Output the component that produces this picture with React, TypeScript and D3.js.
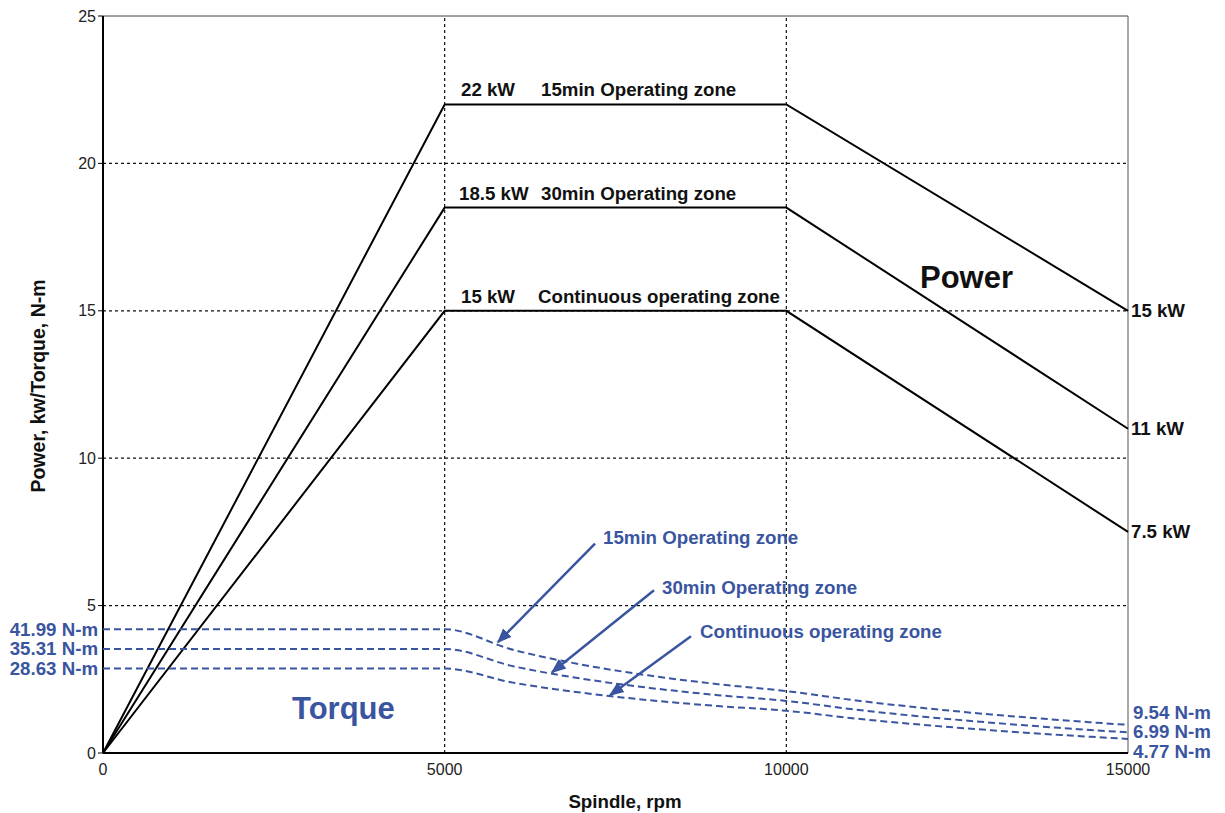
import React from "react";
import * as d3 from "d3";

const W = 1225;
const H = 813;

const xTicks = [0, 5000, 10000, 15000];
const yTicks = [0, 5, 10, 15, 20, 25];

// Power curves (kW) at rpm breakpoints
const powerRpm = [0, 5000, 10000, 15000];
const power15min = [0, 22, 22, 15];
const power30min = [0, 18.5, 18.5, 11];
const powerCont = [0, 15, 15, 7.5];

// Torque curves (N-m), plotted at 1/10 scale
const torqueRpm = [0, 5000, 6000, 7000, 8000, 9000, 10000, 11000, 12000, 13000, 14000, 15000];
const torque15min = [41.99, 41.99, 35.01, 30.01, 26.26, 23.34, 21.01, 17.88, 15.28, 13.07, 11.19, 9.54];
const torque30min = [35.31, 35.31, 29.44, 25.24, 22.08, 19.63, 17.67, 14.76, 12.33, 10.28, 8.53, 6.99];
const torqueCont = [28.63, 28.63, 23.87, 20.46, 17.9, 15.92, 14.32, 11.72, 9.55, 7.71, 6.14, 4.77];

const powerTopLabels = ["22 kW", "18.5 kW", "15 kW"];
const powerZoneLabels = ["15min Operating zone", "30min Operating zone", "Continuous operating zone"];
const powerEndLabels = ["15 kW", "11 kW", "7.5 kW"];
const torqueStartLabels = ["41.99 N-m", "35.31 N-m", "28.63 N-m"];
const torqueEndLabels = ["9.54 N-m", "6.99 N-m", "4.77 N-m"];

// Arrow annotations in data coordinates [rpm, value]
const arrowTails = [[7200, 7.1], [8064, 5.52], [8605, 3.96]];
const arrowTips = [[5780, 3.76], [6571, 2.74], [7420, 1.96]];

const BLUE = "#3a55a0";

export default function App() {
  const x = d3.scaleLinear().domain([0, 15000]).range([103, 1128]);
  const y = d3.scaleLinear().domain([0, 25]).range([753, 16]);

  const pLine = d3
    .line<number>()
    .x((_, i) => x(powerRpm[i]))
    .y((d) => y(d));
  const tLine = d3
    .line<number>()
    .x((_, i) => x(torqueRpm[i]))
    .y((d) => y(d / 10))
    .curve(d3.curveMonotoneX);

  const powers = [power15min, power30min, powerCont];
  const torques = [torque15min, torque30min, torqueCont];
  const boldFont = "'Liberation Sans', Arial, sans-serif";
  const tickFont = "'Liberation Sans', Arial, sans-serif";
  const FS = 18.7;

  return (
    <svg width={W} height={H} style={{ position: "absolute", left: 0, top: 0, background: "#fff" }}>
      <defs>
        <marker id="ah" viewBox="0 0 10 10" refX="9" refY="5" markerWidth="6" markerHeight="6" orient="auto">
          <path d="M0,1 L10,5 L0,9 Z" fill={BLUE} />
        </marker>
      </defs>
      {/* grid */}
      {yTicks.filter((t) => t > 0 && t < 25).map((t) => (
        <line key={"gy" + t} x1={x(0)} x2={x(15000)} y1={y(t)} y2={y(t)} stroke="#111" strokeWidth={1.2} strokeDasharray="3,3" />
      ))}
      {xTicks.filter((t) => t > 0 && t < 15000).map((t) => (
        <line key={"gx" + t} x1={x(t)} x2={x(t)} y1={y(0)} y2={y(25)} stroke="#111" strokeWidth={1.2} strokeDasharray="3,3" />
      ))}
      {/* frame */}
      <line x1={x(0)} x2={x(15000)} y1={y(25)} y2={y(25)} stroke="#444" strokeWidth={1} />
      <line x1={x(15000)} x2={x(15000)} y1={y(25)} y2={y(0)} stroke="#555" strokeWidth={1} />
      <line x1={x(0)} x2={x(0)} y1={y(25)} y2={y(0)} stroke="#000" strokeWidth={2} />
      <line x1={x(0)} x2={x(15000)} y1={y(0)} y2={y(0)} stroke="#000" strokeWidth={2} />
      {/* ticks */}
      {yTicks.map((t) => (
        <g key={"yt" + t}>
          <line x1={x(0) - 5} x2={x(0)} y1={y(t)} y2={y(t)} stroke="#000" strokeWidth={1} />
          <text x={x(0) - 7} y={y(t)} dy="0.35em" textAnchor="end" fontFamily={tickFont} fontSize={16} fill="#222">{t}</text>
        </g>
      ))}
      {xTicks.map((t) => (
        <text key={"xt" + t} x={x(t)} y={y(0) + 22} textAnchor="middle" fontFamily={tickFont} fontSize={16} fill="#222">{t}</text>
      ))}
      {/* axis titles */}
      <text x={625} y={808} textAnchor="middle" fontFamily={boldFont} fontWeight="bold" fontSize={FS} fill="#111">Spindle, rpm</text>
      <text transform={`translate(45,386) rotate(-90)`} textAnchor="middle" fontFamily={boldFont} fontWeight="bold" fontSize={19.5} fill="#111">Power, kw/Torque, N-m</text>
      {/* power curves */}
      {powers.map((p, i) => (
        <path key={"p" + i} d={pLine(p) || ""} fill="none" stroke="#000" strokeWidth={2} />
      ))}
      {/* torque curves */}
      {torques.map((t, i) => (
        <path key={"t" + i} d={tLine(t) || ""} fill="none" stroke={BLUE} strokeWidth={2} strokeDasharray="7,4" />
      ))}
      {/* power labels */}
      {powers.map((p, i) => (
        <g key={"pl" + i} fontFamily={boldFont} fontWeight="bold" fontSize={FS} fill="#111">
          <text x={i === 1 ? 459 : 461} y={y(p[1]) - 8}>{powerTopLabels[i]}</text>
          <text x={i === 2 ? 538 : 541} y={y(p[1]) - 8}>{powerZoneLabels[i]}</text>
          <text x={x(15000) + 3} y={y(p[3])} dy="0.35em">{powerEndLabels[i]}</text>
        </g>
      ))}
      <text x={920} y={288} fontFamily={boldFont} fontWeight="bold" fontSize={31} fill="#111">Power</text>
      <text x={292} y={719} fontFamily={boldFont} fontWeight="bold" fontSize={31} fill={BLUE}>Torque</text>
      {/* torque labels */}
      {torques.map((t, i) => (
        <text key={"tl" + i} x={98} y={y(t[0] / 10)} dy="0.35em" textAnchor="end" fontFamily={boldFont} fontWeight="bold" fontSize={FS} fill={BLUE}>{torqueStartLabels[i]}</text>
      ))}
      {torqueEndLabels.map((s, i) => (
        <text key={"te" + i} x={1133} y={712 + i * 19.5} dy="0.35em" fontFamily={boldFont} fontWeight="bold" fontSize={FS} fill={BLUE}>{s}</text>
      ))}
      {/* arrows */}
      {arrowTails.map((a, i) => (
        <line key={"ar" + i} x1={x(a[0])} y1={y(a[1])} x2={x(arrowTips[i][0])} y2={y(arrowTips[i][1])} stroke={BLUE} strokeWidth={2.5} markerEnd="url(#ah)" />
      ))}
      <g fontFamily={boldFont} fontWeight="bold" fontSize={FS} fill={BLUE}>
        <text x={603} y={544}>{powerZoneLabels[0]}</text>
        <text x={662} y={594}>{powerZoneLabels[1]}</text>
        <text x={700} y={638}>{powerZoneLabels[2]}</text>
      </g>
    </svg>
  );
}
